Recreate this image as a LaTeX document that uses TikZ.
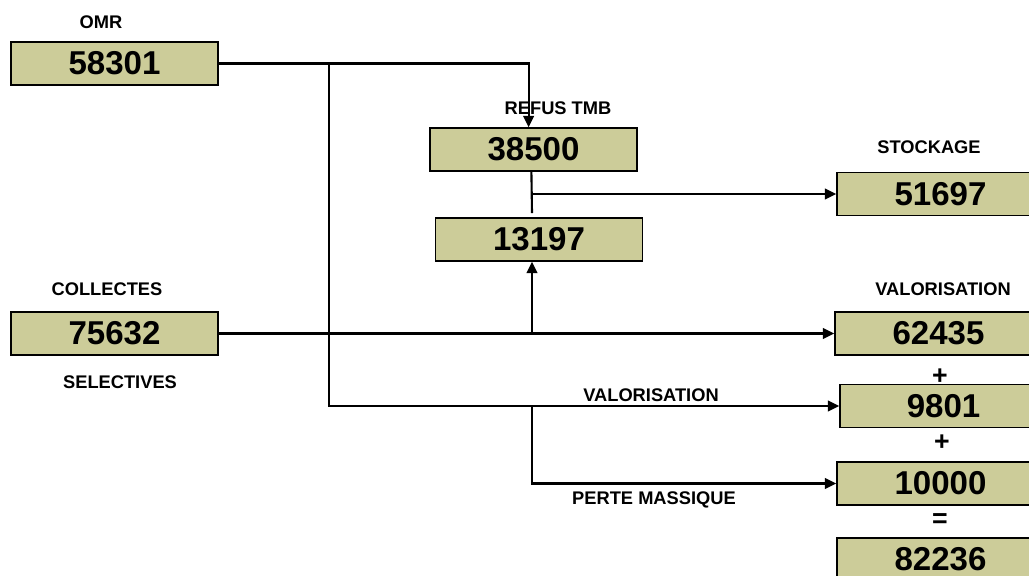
\documentclass[tikz,border=0pt]{standalone}
\usepackage{fontspec}
\setmainfont{Liberation Sans}
\usetikzlibrary{
    arrows.meta,
    positioning
}
\definecolor{boxfill}{RGB}{204,204,153}

\begin{document}
\begin{tikzpicture}[
    x=0.025cm, y=-0.025cm,
    valbox/.style={rectangle, minimum width=5.175cm, minimum height=1.075cm,
                   inner sep=0pt, text centered, draw=black, fill=boxfill,
                   line width=1.1pt, font=\fontsize{23.5}{26}\selectfont\bfseries},
    tag/.style={inner sep=0pt, font=\fontsize{13}{15}\selectfont\bfseries},
    op/.style={inner sep=0pt, font=\fontsize{19}{21}\selectfont\bfseries},
    arrow/.style={-{Triangle[length=8pt,width=7.5pt]}, line width=1.5pt},
    link/.style={line width=1.5pt}
]
    \useasboundingbox (0,0) rectangle (1029,575);

    % boxes
    \node (omr) [valbox] at (114.5,63.5) {58301};
    \node (refus) [valbox] at (533.5,149.5) {38500};
    \node (reste) [valbox] at (539,239.5) {13197};
    \node (stock) [valbox] at (940.5,194) {51697};
    \node (collect) [valbox] at (114.5,333.5) {75632};
    \node (valo1) [valbox] at (938.5,333.5) {62435};
    \node (valo2) [valbox] at (943.5,406) {9801};
    \node (perte) [valbox] at (940.5,483.5) {10000};
    \node (total) [valbox] at (940.5,559.5) {82236};

    % labels
    \node (omrtag) [tag] at (101,22) {OMR};
    \node (refustag) [tag] at (558,108) {REFUS TMB};
    \node (stocktag) [tag] at (929,147) {STOCKAGE};
    \node (colltag) [tag] at (107,289) {COLLECTES};
    \node (seltag) [tag] at (120,382) {SELECTIVES};
    \node (valotag) [tag] at (943,289) {VALORISATION};
    \node (valo2tag) [tag] at (651,395) {VALORISATION};
    \node (pertetag) [tag, anchor=base] at (654,504) {PERTE MASSIQUE};
    \node (plus1) [op] at (940,377) {+};
    \node (plus2) [op] at (942,443) {+};
    \node (equal) [op] at (940,521) {=};

    % junctions
    \coordinate (j1) at (329,63.5);
    \coordinate (j2) at (532,213);
    \coordinate (j3) at (532,333.5);
    \coordinate (j4) at (532,406);

    \draw [arrow] (omr.east) -| ([xshift=-3.5]refus.north);
    \draw [arrow] (j1) |- (valo2.west);
    \draw [link] ([xshift=-1.5]refus.south) -- (j2);
    \draw [arrow] ([xshift=-1.5]refus.south |- stock.west) -- (stock.west);
    \draw [arrow] (collect.east) -- (valo1.west);
    \draw [arrow] (j3) -- (j3 |- reste.south);
    \draw [arrow] (j4) |- (perte.west);

\end{tikzpicture}
\end{document}
